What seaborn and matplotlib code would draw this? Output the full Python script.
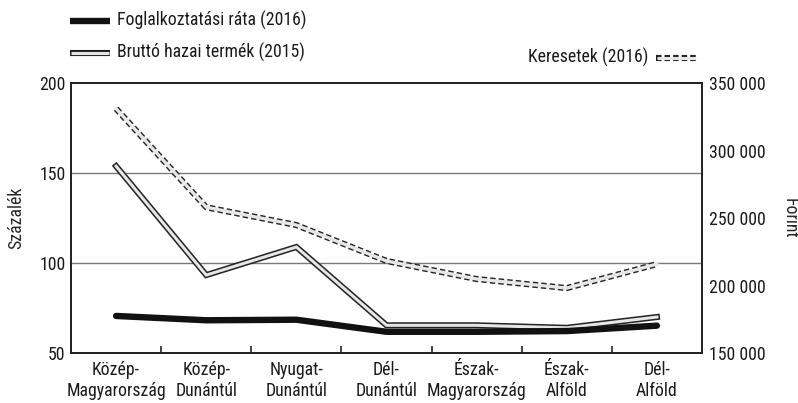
import numpy as np
import pandas as pd
import matplotlib
matplotlib.use("Agg")
import matplotlib.pyplot as plt
from matplotlib.lines import Line2D
from matplotlib.ticker import FuncFormatter, FixedLocator
import seaborn as sns

regions = ["Közép-\nMagyarország", "Közép-\nDunántúl", "Nyugat-\nDunántúl", "Dél-\nDunántúl",
           "Észak-\nMagyarország", "Észak-\nAlföld", "Dél-\nAlföld"]
employment_2016 = [70.6, 68.2, 68.5, 61.8, 61.8, 62.2, 65.2]
gdp_2015 = [153.8, 93.3, 108.9, 65.4, 65.4, 64.0, 70.0]
earnings_2016 = [331000, 258000, 244800, 218200, 204800, 198100, 215900]

left_ticks = [50, 100, 150, 200]
right_ticks = [150000, 200000, 250000, 300000, 350000]

FS = 12.8
sns.set_style("ticks")
plt.rcParams["font.family"] = ["Roboto Condensed", "DejaVu Sans"]
plt.rcParams["font.size"] = FS
plt.rcParams["text.color"] = "#1a1a1a"
plt.rcParams["xtick.color"] = "#1a1a1a"
plt.rcParams["ytick.color"] = "#1a1a1a"

df = pd.DataFrame({"x": np.arange(len(regions)), "emp": employment_2016,
                   "gdp": gdp_2015, "earn": earnings_2016})

fig = plt.figure(figsize=(7.98, 4.03), dpi=100)
ax = fig.add_axes([0.089, 0.124, 0.7907, 0.670])
ax2 = ax.twinx()

DASH = (0, (0.9, 0.5))

# earnings on the right axis: dashed outline with light fill
sns.lineplot(data=df, x="x", y="earn", ax=ax2, color="#222222", lw=4.4,
             linestyle=DASH, solid_capstyle="butt")
sns.lineplot(data=df, x="x", y="earn", ax=ax2, color="#e6e6e6", lw=2.4)

# GDP: solid outline with light fill
sns.lineplot(data=df, x="x", y="gdp", ax=ax, color="#222222", lw=4.4,
             solid_capstyle="projecting", solid_joinstyle="miter")
sns.lineplot(data=df, x="x", y="gdp", ax=ax, color="#e6e6e6", lw=2.2,
             solid_capstyle="projecting", solid_joinstyle="miter")

# employment rate: thick black
sns.lineplot(data=df, x="x", y="emp", ax=ax, color="#111111", lw=4.6)

ax.set_xlim(-0.5, len(regions) - 0.5)
ax.set_ylim(50, 200)
ax2.set_ylim(150000, 350000)

ax.set_yticks(left_ticks)
ax2.set_yticks(right_ticks)
ax2.yaxis.set_major_formatter(FuncFormatter(lambda v, p: f"{int(v):,}".replace(",", " ")))

for y in [100, 150]:
    ax.axhline(y, color="#7a7a7a", lw=1.0, zorder=0)

ax.xaxis.set_major_locator(FixedLocator(np.arange(0.5, len(regions) - 0.5, 1)))
ax.xaxis.set_major_formatter(FuncFormatter(lambda v, p: ""))
ax.xaxis.set_minor_locator(FixedLocator(np.arange(len(regions))))
ax.set_xticklabels(regions, minor=True)
ax.tick_params(axis="x", which="major", direction="in", length=5, width=1.2, color="#222222")
ax.tick_params(axis="x", which="minor", length=0, pad=6, labelsize=FS)
ax.tick_params(axis="y", length=0, pad=4, labelsize=FS)
ax2.tick_params(axis="y", length=0, pad=5, labelsize=FS)

for a in (ax, ax2):
    for s in a.spines.values():
        s.set_visible(True)
        s.set_linewidth(1.3)
        s.set_color("#222222")

ax.set_xlabel("")
ax.set_ylabel("Százalék", fontsize=FS, va="center")
ax.yaxis.set_label_coords(-0.087, 0.5)
ax2.set_ylabel("Forint", fontsize=FS, rotation=-90, va="center")
ax2.yaxis.set_label_coords(1.139, 0.5)

# legend samples
def fig_line(x0, x1, y, outer_style):
    fig.add_artist(Line2D([x0, x1], [y, y], transform=fig.transFigure, color="#222222",
                          lw=4.4, linestyle=outer_style, solid_capstyle="butt"))
    fig.add_artist(Line2D([x0 + 0.0015, x1 - 0.0015], [y, y], transform=fig.transFigure,
                          color="#e6e6e6", lw=2.2, solid_capstyle="butt"))

W, H = 798, 403
fig.add_artist(Line2D([70 / W, 110 / W], [1 - 21 / H, 1 - 21 / H], transform=fig.transFigure,
                      color="#111111", lw=4.6, solid_capstyle="butt"))
fig.text(117 / W, 1 - 20 / H, "Foglalkoztatási ráta (2016)", va="center", ha="left")
fig_line(70 / W, 110 / W, 1 - 53 / H, "-")
fig.text(117 / W, 1 - 52 / H, "Bruttó hazai termék (2015)", va="center", ha="left")
fig.text(648 / W, 1 - 57 / H, "Keresetek (2016)", va="center", ha="right")
fig_line(656 / W, 697 / W, 1 - 58 / H, DASH)

fig.savefig("out.png", dpi=100)
